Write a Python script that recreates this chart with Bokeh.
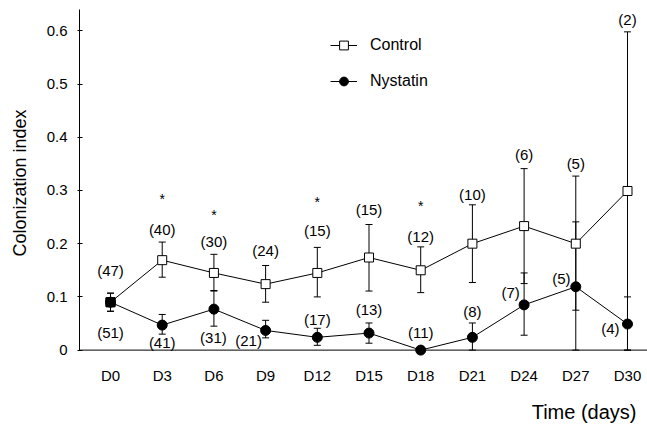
from bokeh.plotting import figure
from bokeh.models import (Range1d, FixedTicker, Whisker, ColumnDataSource, Legend,
                          LegendItem, TeeHead, Span, Title)
from bokeh.core.properties import value
from bokeh.embed import file_html
from bokeh.resources import INLINE

# ---------------- data ----------------
day_labels = ["D0", "D3", "D6", "D9", "D12", "D15", "D18", "D21", "D24", "D27", "D30"]
day_idx = list(range(len(day_labels)))

control_mean = [0.090, 0.169, 0.145, 0.124, 0.145, 0.174, 0.150, 0.200, 0.233, 0.200, 0.299]
control_low = [0.073, 0.137, 0.112, 0.090, 0.100, 0.111, 0.108, 0.127, 0.125, 0.075, 0.000]
control_high = [0.107, 0.203, 0.180, 0.159, 0.193, 0.236, 0.194, 0.273, 0.341, 0.327, 0.598]

nystatin_mean = [0.090, 0.047, 0.077, 0.037, 0.024, 0.032, 0.000, 0.024, 0.085, 0.119, 0.049]
nystatin_low = [0.073, 0.030, 0.045, 0.023, 0.009, 0.013, 0.000, 0.000, 0.028, 0.000, 0.000]
nystatin_high = [0.107, 0.067, 0.111, 0.056, 0.041, 0.051, 0.000, 0.051, 0.145, 0.241, 0.100]

control_n = ["(47)", "(40)", "(30)", "(24)", "(15)", "(15)", "(12)", "(10)", "(6)", "(5)", "(2)"]
nystatin_n = ["(51)", "(41)", "(31)", "(21)", "(17)", "(13)", "(11)", "(8)", "(7)", "(5)", "(4)"]
star_days = [1, 2, 4, 6]

y_ticks = [0, 0.1, 0.2, 0.3, 0.4, 0.5, 0.6]
y_tick_labels = ["0", "0.1", "0.2", "0.3", "0.4", "0.5", "0.6"]

# annotation placement (data units)
control_n_y = [0.150, 0.227, 0.205, 0.188, 0.224, 0.265, 0.214, 0.293, 0.368, 0.351, 0.622]
nystatin_n_x = [0, 1, 1.99, 2.67, 4, 5, 6, 7, 7.74, 8.72, 9.67]
nystatin_n_y = [0.034, 0.015, 0.024, 0.019, 0.058, 0.077, 0.034, 0.073, 0.109, 0.135, 0.041]
star_y = [0.283, 0.254, 0.279, 0.271]

FONT = "Liberation Sans"

p = figure(width=647, height=434, x_range=Range1d(-0.6, 10.387), y_range=Range1d(-0.012, 0.64),
           output_backend="svg", toolbar_location=None,
           min_border_left=79, min_border_right=0, min_border_top=9, min_border_bottom=78)
p.outline_line_color = None
p.xgrid.grid_line_color = None
p.ygrid.grid_line_color = None
p.background_fill_color = "white"

# y axis
p.yaxis.ticker = FixedTicker(ticks=y_ticks)
p.yaxis.major_label_overrides = {t: l for t, l in zip(y_ticks, y_tick_labels)}
p.yaxis.minor_tick_line_color = None
p.yaxis.major_tick_in = 3
p.yaxis.major_tick_out = 2
p.yaxis.bounds = (0, 0.64)
p.yaxis.major_label_standoff = 10
p.yaxis.major_label_text_font = FONT
p.yaxis.major_label_text_font_size = "15px"
p.yaxis.major_label_text_color = "black"
p.yaxis.axis_line_color = "black"
p.yaxis.major_tick_line_color = "black"
p.yaxis.axis_label = "Colonization index"
p.yaxis.axis_label_text_font = FONT
p.yaxis.axis_label_text_font_size = "18px"
p.yaxis.axis_label_text_font_style = "normal"
p.yaxis.axis_label_text_color = "black"
p.yaxis.axis_label_standoff = 14

# x axis (line drawn at y = 0 by a span)
p.xaxis.ticker = FixedTicker(ticks=day_idx)
p.xaxis.major_label_overrides = {i: l for i, l in zip(day_idx, day_labels)}
p.xaxis.major_tick_line_color = None
p.xaxis.minor_tick_line_color = None
p.xaxis.major_tick_in = 0
p.xaxis.major_tick_out = 0
p.xaxis.major_label_standoff = 10
p.xaxis.major_label_text_font = FONT
p.xaxis.major_label_text_font_size = "15px"
p.xaxis.major_label_text_color = "black"
p.xaxis.axis_line_color = None
p.add_layout(Span(location=0, dimension="width", line_color="black", line_width=1))

# error bars
for low, high in ((control_low, control_high), (nystatin_low, nystatin_high)):
    src = ColumnDataSource(dict(x=day_idx, lower=low, upper=high))
    w = Whisker(source=src, base="x", lower="lower", upper="upper", dimension="height",
                line_color="black", line_width=1,
                upper_head=TeeHead(size=7, line_color="black", line_width=1),
                lower_head=TeeHead(size=7, line_color="black", line_width=1))
    p.add_layout(w)

# series
lc = p.line(day_idx, control_mean, line_color="black", line_width=1)
ln = p.line(day_idx, nystatin_mean, line_color="black", line_width=1)
sc = p.scatter(day_idx, control_mean, marker="square", size=9, fill_color="white",
               line_color="black", line_width=1)
sn = p.scatter(day_idx, nystatin_mean, marker="circle", size=10, fill_color="black",
               line_color="black")
# shared starting point drawn as a filled square
p.scatter(day_idx[:1], nystatin_mean[:1], marker="square", size=9, fill_color="black",
          line_color="black")

# n labels and significance stars
p.text(x=day_idx, y=control_n_y, text=control_n, text_font=value(FONT),
       text_font_size="15px", text_align="center", text_baseline="middle", text_color="black")
p.text(x=nystatin_n_x, y=nystatin_n_y, text=nystatin_n, text_font=value(FONT),
       text_font_size="15px", text_align="center", text_baseline="middle", text_color="black")
p.text(x=star_days, y=star_y, text=["*"] * len(star_days), text_font=value(FONT),
       text_font_size="14px", text_align="center", text_baseline="middle", text_color="black")

# x-axis title, right aligned
p.add_layout(Title(text="Time (days)", align="right", offset=11, standoff=24,
                   text_font=FONT, text_font_size="20px", text_font_style="normal",
                   text_color="black"), "below")

legend = Legend(items=[LegendItem(label="Control", renderers=[lc, sc]),
                       LegendItem(label="Nystatin", renderers=[ln, sn])],
                location=(251, 264), glyph_width=27, glyph_height=22, spacing=14,
                label_standoff=13, padding=0, margin=0, border_line_color=None,
                background_fill_alpha=0, label_text_font=FONT, label_text_font_size="16px",
                label_text_color="black")
p.add_layout(legend)

open("out.html", "w").write(file_html(p, INLINE))
